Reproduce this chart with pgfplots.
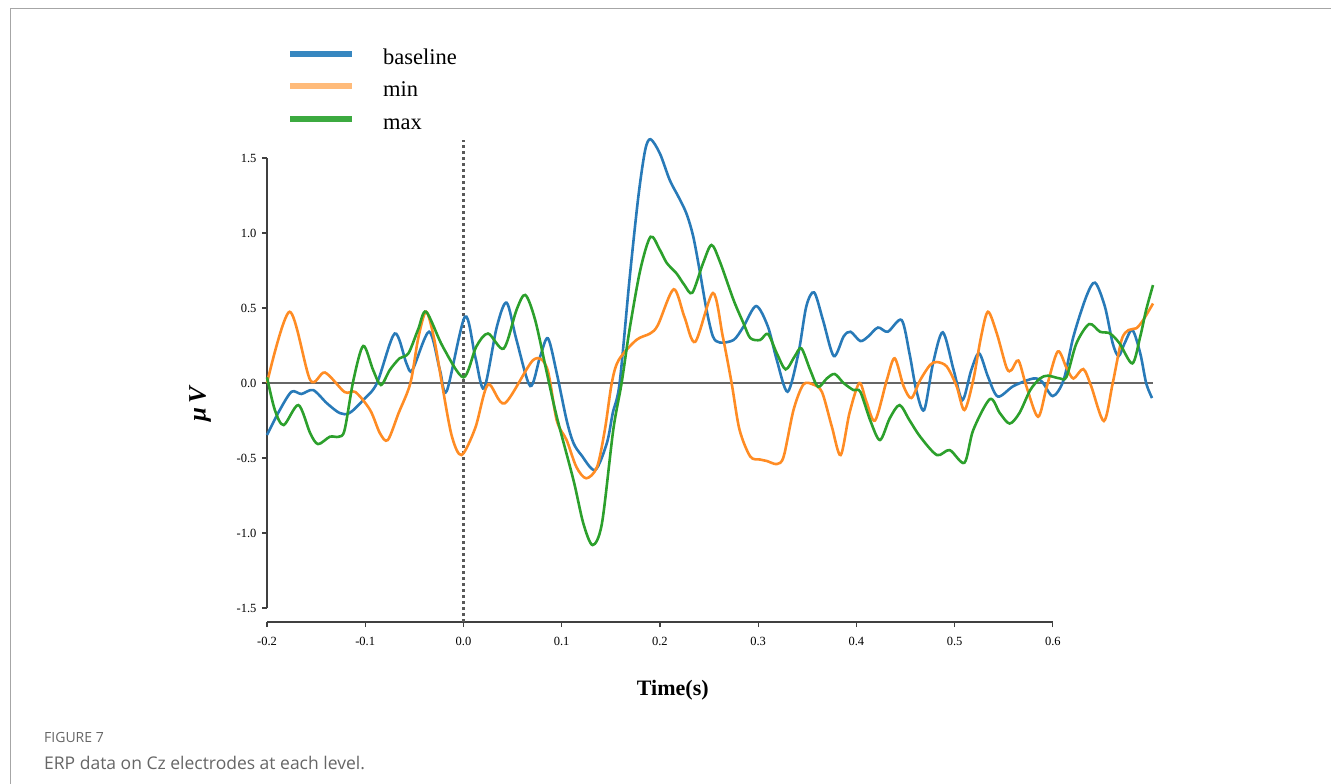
\documentclass[border=0pt]{standalone}
\usepackage{pgfplots}
\pgfplotsset{compat=1.18}
\usepackage{fontspec}
\setmainfont{Liberation Serif}
\newfontfamily\capfont{Open Sans}
\definecolor{cblue}{RGB}{40,122,184}
\definecolor{corange}{RGB}{255,140,36}
\definecolor{cgreen}{RGB}{44,160,44}
\definecolor{lblue}{RGB}{55,135,192}
\definecolor{lorange}{RGB}{255,187,122}
\definecolor{lgreen}{RGB}{60,170,64}
\begin{document}
\begin{tikzpicture}[x=1pt,y=1pt]
\useasboundingbox (0,0) rectangle (1331,-784);
\draw[black!35, line width=1.3pt] (10.5,-784) -- (10.5,-8.5) -- (1331,-8.5);
\node[anchor=base west, inner sep=0pt, text=black!60, font=\capfont\fontsize{14}{16}\selectfont] at (44,-742) {FIGURE 7};
\node[anchor=base west, inner sep=0pt, text=black!60, font=\capfont\fontsize{17.5}{20}\selectfont] at (44,-769) {ERP data on Cz electrodes at each level.};
\begin{axis}[
  at={(267pt,-622pt)}, anchor=south west,
  scale only axis, width=886pt, height=482pt,
  xmin=-0.2, xmax=0.702, ymin=-1.593, ymax=1.62,
  axis x line*=bottom, axis y line*=left,
  axis line style={draw=none},
  clip=false,
  xtick={-0.2,-0.1,0,0.1,0.2,0.3,0.4,0.5,0.6},
  xticklabels={-0.2,-0.1,0.0,0.1,0.2,0.3,0.4,0.5,0.6},
  ytick={-1.5,-1,-0.5,0,0.5,1,1.5},
  yticklabels={-1.5,-1.0,-0.5,0.0,0.5,1.0,1.5},
  tick align=outside, major tick length=5pt,
  tick style={black!75, line width=1.2pt},
  tick label style={font=\fontsize{12.5}{14}\selectfont, text=black},
  xticklabel style={yshift=-7pt},
  yticklabel style={xshift=-2pt},
  xlabel={\textbf{Time(s)}},
  xlabel style={at={(axis description cs:0.458,0)}, anchor=base, yshift=-73pt, font=\fontsize{22}{26}\selectfont},
  ylabel={\textbf{\textit{μ\,V}}},
  ylabel style={at={(axis description cs:-0.0756,0.454)}, anchor=center, font=\fontsize{25}{28}\selectfont},
  legend image code/.code={\draw[#1, line width=6pt] (0pt,5pt) -- (62pt,5pt);},
  legend cell align=left,
  legend style={at={(axis description cs:0.0226,1.19)}, anchor=north west, draw=none, fill=none,
    inner sep=0pt, outer sep=0pt,
    nodes={inner sep=0pt, text height=16pt, text depth=5pt},
    font=\fontsize{22.5}{26}\selectfont, row sep=11.5pt, /tikz/column sep=28pt},
]
\addlegendimage{lblue}
\addlegendimage{lorange}
\addlegendimage{lgreen}
% spines
\draw[black!75, line width=1.6pt] (axis cs:-0.2,-1.5) -- (axis cs:-0.2,1.5);
\draw[black!75, line width=1.6pt] (axis cs:-0.2,-1.593) -- (axis cs:0.6,-1.593);
\addplot[forget plot, black!60, line width=2pt] coordinates {(-0.2,0) (0.702,0)};
\draw[black!65, line width=2.2pt, dash pattern=on 3.5pt off 2.5pt] (axis cs:0,-1.593) -- (axis cs:0,1.62);
% baseline
\addplot[forget plot, cblue, line width=2.6pt, smooth] coordinates {
(-0.200,-0.347) (-0.187,-0.18) (-0.175,-0.058) (-0.165,-0.073) (-0.153,-0.047) (-0.139,-0.135)
(-0.126,-0.2) (-0.116,-0.2) (-0.102,-0.113) (-0.088,0.0) (-0.070,0.33) (-0.058,0.13) (-0.052,0.087)
(-0.035,0.342) (-0.024,0.087) (-0.017,-0.053) (0.0015,0.442) (0.012,0.175) (0.021,-0.035)
(0.034,0.375) (0.044,0.535) (0.054,0.287) (0.068,-0.02) (0.078,0.175) (0.086,0.298) (0.095,0.065)
(0.105,-0.247) (0.112,-0.4) (0.120,-0.48) (0.134,-0.58) (0.146,-0.4) (0.152,-0.2) (0.159,0.0)
(0.169,0.687) (0.178,1.24) (0.185,1.553) (0.1905,1.625) (0.200,1.53) (0.210,1.353) (0.219,1.24)
(0.227,1.13) (0.234,0.975) (0.241,0.73) (0.2475,0.487) (0.254,0.31) (0.261,0.27) (0.275,0.287)
(0.285,0.375) (0.298,0.513) (0.310,0.375) (0.319,0.153) (0.330,-0.058) (0.341,0.198) (0.349,0.51)
(0.357,0.604) (0.366,0.42) (0.377,0.18) (0.387,0.31) (0.394,0.342) (0.404,0.28) (0.412,0.31)
(0.422,0.37) (0.432,0.342) (0.446,0.42) (0.454,0.2) (0.461,-0.047) (0.469,-0.18) (0.478,0.13)
(0.488,0.338) (0.499,0.087) (0.508,-0.113) (0.517,0.087) (0.525,0.198) (0.534,0.042) (0.544,-0.09)
(0.560,-0.02) (0.580,0.03) (0.589,0.009) (0.600,-0.087) (0.611,0.02) (0.621,0.31) (0.634,0.575)
(0.643,0.669) (0.653,0.51) (0.661,0.264) (0.667,0.18) (0.673,0.264) (0.681,0.353) (0.689,0.198)
(0.695,0.0) (0.701,-0.1)};
% min
\addplot[forget plot, corange, line width=2.6pt, smooth] coordinates {
(-0.200,0.0) (-0.177,0.475) (-0.156,0.02) (-0.141,0.07) (-0.121,-0.06) (-0.110,-0.06) (-0.095,-0.18)
(-0.085,-0.335) (-0.077,-0.38) (-0.066,-0.2) (-0.054,0.0) (-0.046,0.3) (-0.038,0.475) (-0.030,0.3)
(-0.022,0.0) (-0.012,-0.35) (-0.002,-0.48) (0.012,-0.3) (0.025,-0.01) (0.042,-0.135) (0.071,0.153)
(0.085,0.1) (0.095,-0.25) (0.105,-0.38) (0.115,-0.56) (0.125,-0.635) (0.136,-0.56) (0.144,-0.31)
(0.151,0.0) (0.158,0.153) (0.176,0.287) (0.190,0.33) (0.198,0.387) (0.214,0.625) (0.225,0.44)
(0.236,0.275) (0.254,0.6) (0.264,0.31) (0.273,0.0) (0.281,-0.31) (0.292,-0.49) (0.302,-0.51)
(0.309,-0.52) (0.319,-0.54) (0.326,-0.49) (0.336,-0.18) (0.346,-0.01) (0.356,-0.01) (0.365,-0.06)
(0.375,-0.29) (0.384,-0.48) (0.393,-0.2) (0.403,0.0) (0.410,-0.12) (0.419,-0.25) (0.431,0.02)
(0.439,0.165) (0.448,-0.02) (0.456,-0.1) (0.465,0.02) (0.475,0.12) (0.482,0.14) (0.492,0.11)
(0.502,-0.02) (0.510,-0.18) (0.519,0.02) (0.527,0.31) (0.534,0.475) (0.543,0.33) (0.553,0.1)
(0.558,0.087) (0.565,0.15) (0.573,-0.02) (0.585,-0.225) (0.594,-0.02) (0.605,0.21) (0.614,0.1)
(0.621,0.03) (0.631,0.093) (0.639,-0.02) (0.652,-0.253) (0.661,0.0) (0.670,0.287) (0.677,0.353)
(0.685,0.365) (0.692,0.42) (0.702,0.53)};
% max
\addplot[forget plot, cgreen, line width=2.6pt, smooth] coordinates {
(-0.200,0.038) (-0.192,-0.18) (-0.183,-0.28) (-0.168,-0.147) (-0.156,-0.335) (-0.148,-0.407)
(-0.136,-0.358) (-0.127,-0.358) (-0.121,-0.313) (-0.112,0.02) (-0.102,0.247) (-0.092,0.087)
(-0.084,-0.013) (-0.075,0.087) (-0.065,0.165) (-0.056,0.198) (-0.046,0.36) (-0.038,0.475)
(-0.021,0.242) (0.000,0.038) (0.013,0.242) (0.025,0.33) (0.041,0.23) (0.054,0.487) (0.063,0.587)
(0.073,0.42) (0.085,0.065) (0.095,-0.225) (0.112,-0.647) (0.122,-0.935) (0.1315,-1.08) (0.141,-0.935)
(0.1525,-0.313) (0.161,0.0) (0.169,0.353) (0.180,0.753) (0.1905,0.975) (0.200,0.887) (0.207,0.8)
(0.217,0.73) (0.225,0.653) (0.233,0.602) (0.244,0.8) (0.2525,0.92) (0.261,0.81) (0.275,0.553)
(0.285,0.4) (0.292,0.3) (0.302,0.287) (0.310,0.327) (0.319,0.198) (0.328,0.091) (0.337,0.175)
(0.344,0.231) (0.353,0.087) (0.361,-0.025) (0.370,0.031) (0.378,0.06) (0.387,0.0) (0.397,-0.047)
(0.404,-0.058) (0.414,-0.247) (0.424,-0.38) (0.434,-0.235) (0.444,-0.147) (0.454,-0.247)
(0.465,-0.358) (0.482,-0.48) (0.495,-0.447) (0.510,-0.531) (0.519,-0.313) (0.536,-0.107)
(0.546,-0.2) (0.556,-0.27) (0.566,-0.2) (0.577,-0.047) (0.587,0.031) (0.595,0.049) (0.607,0.031)
(0.614,0.042) (0.624,0.264) (0.637,0.393) (0.648,0.342) (0.658,0.331) (0.668,0.264) (0.681,0.131)
(0.689,0.31) (0.695,0.487) (0.702,0.653)};
\legend{baseline,min,max}
\end{axis}
\end{tikzpicture}
\end{document}
